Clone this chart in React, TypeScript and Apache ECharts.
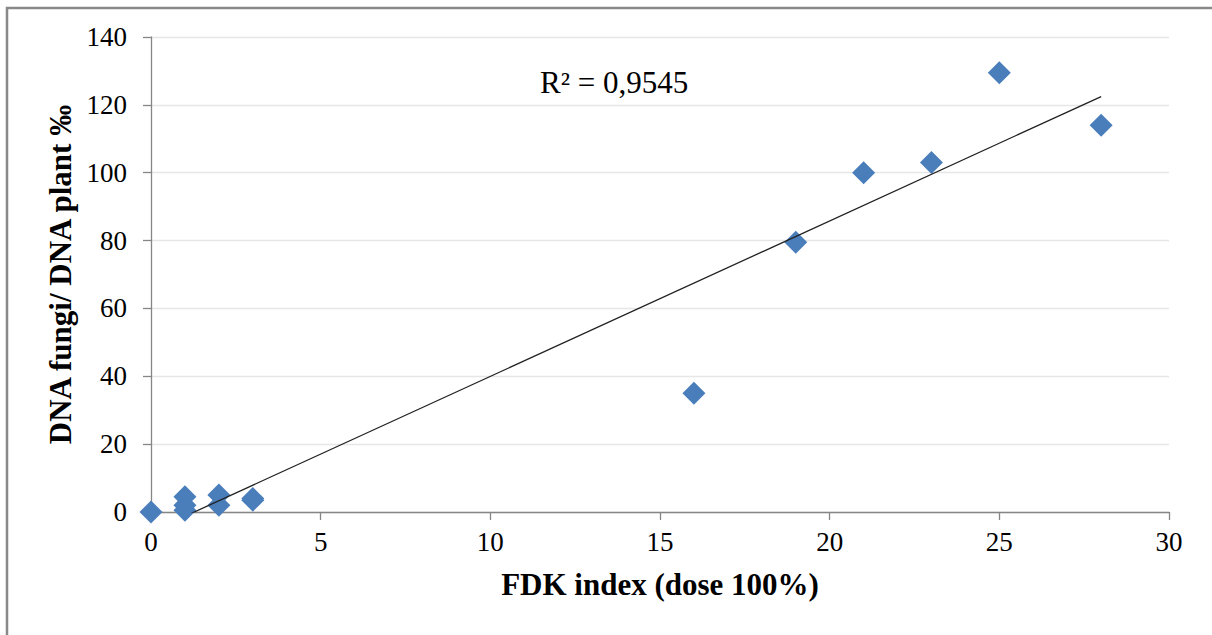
import React, { useEffect, useRef } from "react";
import * as echarts from "echarts";

const fdkIndex = [0, 1, 1, 1, 2, 2, 3, 3, 16, 19, 21, 23, 25, 28];
const dnaRatio = [0, 4.5, 2, 0.5, 5, 2, 4, 3.5, 35, 79.5, 100, 103, 129.5, 114];
const xTicks = { min: 0, max: 30, interval: 5 };
const yTicks = { min: 0, max: 140, interval: 20 };
const r2Label = "R² = 0,9545";
const xTitle = "FDK index (dose 100%)";
const yTitle = "DNA fungi/ DNA plant ‰";

function linearFit(xs: number[], ys: number[]) {
  const n = xs.length;
  const mx = xs.reduce((a, b) => a + b, 0) / n;
  const my = ys.reduce((a, b) => a + b, 0) / n;
  let sxy = 0, sxx = 0;
  for (let i = 0; i < n; i++) {
    sxy += (xs[i] - mx) * (ys[i] - my);
    sxx += (xs[i] - mx) * (xs[i] - mx);
  }
  const slope = sxy / sxx;
  return { slope, intercept: my - slope * mx };
}

export default function App() {
  const ref = useRef<HTMLDivElement>(null);
  useEffect(() => {
    document.body.style.margin = "0";
    const chart = echarts.init(ref.current!, null, { renderer: "svg" });
    const { slope, intercept } = linearFit(fdkIndex, dnaRatio);
    const xMin = Math.min(...fdkIndex);
    const xMax = Math.max(...fdkIndex);
    const trend = [
      [xMin, slope * xMin + intercept],
      [xMax, slope * xMax + intercept],
    ];
    const font = "'Liberation Serif', 'Times New Roman', serif";
    chart.setOption({
      animation: false,
      backgroundColor: "#ffffff",
      textStyle: { fontFamily: font },
      grid: { left: 151, right: 43, top: 37, bottom: 123 },
      xAxis: {
        type: "value",
        min: xTicks.min,
        max: xTicks.max,
        interval: xTicks.interval,
        name: xTitle,
        nameLocation: "middle",
        nameGap: 57,
        nameTextStyle: { fontFamily: font, fontSize: 31, fontWeight: "bold", color: "#000" },
        axisLine: { show: true, lineStyle: { color: "#868686", width: 1.3 } },
        axisTick: { show: true, inside: false, length: 8, lineStyle: { color: "#868686", width: 1.3 } },
        axisLabel: { fontFamily: font, fontSize: 27, color: "#000", margin: 16 },
        splitLine: { show: false },
      },
      yAxis: {
        type: "value",
        min: yTicks.min,
        max: yTicks.max,
        interval: yTicks.interval,
        name: yTitle,
        nameLocation: "middle",
        nameGap: 74,
        nameRotate: 90,
        nameTextStyle: { fontFamily: font, fontSize: 31, fontWeight: "bold", color: "#000" },
        axisLine: { show: true, lineStyle: { color: "#868686", width: 1.3 } },
        axisTick: { show: true, inside: false, length: 8, lineStyle: { color: "#868686", width: 1.3 } },
        axisLabel: { fontFamily: font, fontSize: 27, color: "#000", margin: 24 },
        splitLine: { show: true, lineStyle: { color: "#e6e6e6", width: 1.3 } },
      },
      series: [
        {
          type: "line",
          data: trend,
          symbol: "none",
          clip: true,
          lineStyle: { color: "#222", width: 1.3 },
          z: 3,
        },
        {
          type: "scatter",
          data: fdkIndex.map((x, i) => [x, dnaRatio[i]]),
          symbol: "diamond",
          symbolSize: 23,
          itemStyle: { color: "#4a7ebb", opacity: 1 },
          z: 2,
        },
      ],
      graphic: [
        {
          type: "rect",
          shape: { x: 7, y: 8, width: 1230, height: 650 },
          style: { fill: "none", stroke: "#898989", lineWidth: 2.5 },
          silent: true,
        },
        {
          type: "text",
          left: 540,
          top: 67,
          style: { text: r2Label, font: `31px ${font}`, fill: "#000" },
        },
      ],
    });
    return () => chart.dispose();
  }, []);
  return <div ref={ref} style={{ width: 1212, height: 635 }} />;
}
